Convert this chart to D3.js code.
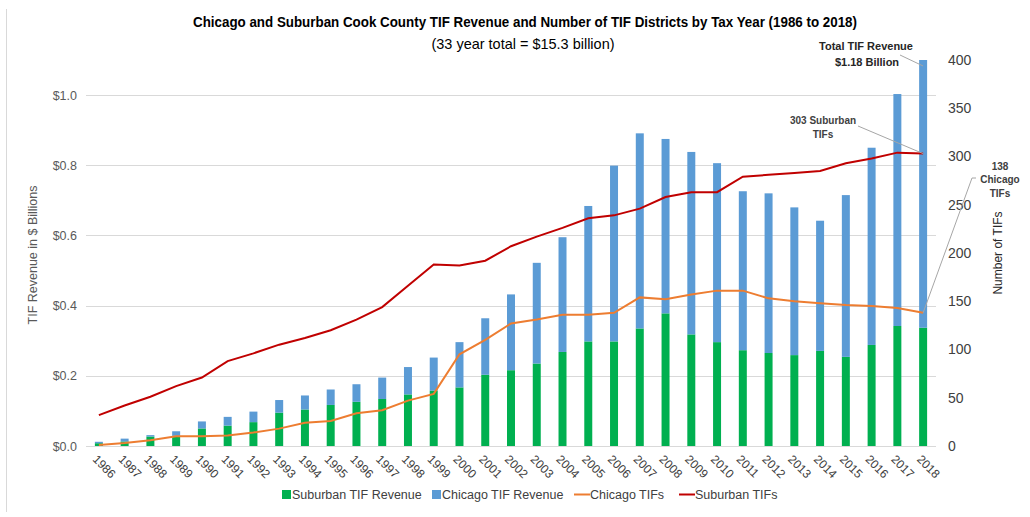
<!DOCTYPE html>
<html><head><meta charset="utf-8">
<script src="https://cdn.jsdelivr.net/npm/d3@7"></script>
<style>
body{margin:0;background:#fff;}
svg{display:block;font-family:"Liberation Sans",Arial,sans-serif;}
</style></head>
<body><svg id="c" width="1030" height="517"></svg>
<script>
const years = d3.range(1986, 2019).map(String);
const suburbanRevenue = [0.008,0.013,0.027,0.029,0.050,0.058,0.068,0.095,0.104,0.117,0.126,0.134,0.147,0.158,0.167,0.203,0.216,0.235,0.268,0.298,0.298,0.335,0.378,0.318,0.296,0.273,0.265,0.259,0.271,0.254,0.288,0.342,0.337];
const chicagoRevenue = [0.004,0.008,0.004,0.013,0.020,0.025,0.030,0.036,0.040,0.044,0.050,0.061,0.078,0.094,0.129,0.161,0.216,0.287,0.327,0.386,0.501,0.556,0.497,0.520,0.510,0.453,0.455,0.421,0.371,0.461,0.562,0.661,0.763];
const chicagoTIFs = [1,3,6,10,10,11,14,18,24,26,34,37,47,54,95,110,127,131,136,136,138,154,152,157,161,161,153,150,148,146,145,143,138];
const suburbanTIFs = [32,42,51,62,71,88,96,105,112,120,131,144,166,188,187,192,207,217,226,236,239,246,258,263,263,279,281,283,285,293,298,304,303];
const leftTicks = [0,0.2,0.4,0.6,0.8,1.0];
const rightTicks = [0,50,100,150,200,250,300,350,400];

const colors = {sub:"#00B050", chi:"#5B9BD5", chiLine:"#ED7D31", subLine:"#C00000"};
const svg = d3.select("#c");

// frame line at left
svg.append("line").attr("x1",6.5).attr("x2",6.5).attr("y1",9).attr("y2",512).attr("stroke","#d9d9d9");

const x = d3.scaleBand().domain(years).range([86,936]).paddingInner(0.69).paddingOuter(0.345);
const yL = d3.scaleLinear().domain([0,1.1]).range([446,60]);
const yR = d3.scaleLinear().domain([0,400]).range([446,60]);

// gridlines
svg.append("g").selectAll("line").data(leftTicks).join("line")
  .attr("x1",86).attr("x2",936).attr("y1",d=>Math.round(yL(d))+0.5).attr("y2",d=>Math.round(yL(d))+0.5)
  .attr("stroke","#d9d9d9").attr("stroke-width",1);

// left axis
const axL = d3.axisLeft(yL).tickValues(leftTicks).tickFormat(d=>"$"+d.toFixed(1)).tickSize(0).tickPadding(0);
const gL = svg.append("g").attr("transform","translate(77,0)").call(axL);
gL.select(".domain").remove();
gL.selectAll("text").attr("fill","#595959").attr("font-size","12.5px");

// right axis
const axR = d3.axisRight(yR).tickValues(rightTicks).tickSize(0).tickPadding(0);
const gR = svg.append("g").attr("transform","translate(948,0)").call(axR);
gR.select(".domain").remove();
gR.selectAll("text").attr("fill","#404040").attr("font-size","14px");

// bars
const data = years.map((y,i)=>({y, s:suburbanRevenue[i], c:chicagoRevenue[i]}));
svg.append("g").selectAll("rect").data(data).join("rect")
  .attr("x",d=>x(d.y)).attr("width",x.bandwidth())
  .attr("y",d=>yL(d.s)).attr("height",d=>yL(0)-yL(d.s)).attr("fill",colors.sub);
svg.append("g").selectAll("rect").data(data).join("rect")
  .attr("x",d=>x(d.y)).attr("width",x.bandwidth())
  .attr("y",d=>yL(d.s+d.c)).attr("height",d=>yL(d.s)-yL(d.s+d.c)).attr("fill",colors.chi);

// lines
const cx = d=>x(d)+x.bandwidth()/2;
const line = d3.line().x((d,i)=>cx(years[i])).y(d=>yR(d));
svg.append("path").datum(chicagoTIFs).attr("d",line).attr("fill","none").attr("stroke",colors.chiLine).attr("stroke-width",2);
svg.append("path").datum(suburbanTIFs).attr("d",line).attr("fill","none").attr("stroke",colors.subLine).attr("stroke-width",2);

// x labels
svg.append("g").selectAll("text").data(years).join("text")
  .attr("transform",d=>`translate(${cx(d)-4},${457}) rotate(45)`)
  .attr("font-size","12px").attr("fill","#404040").attr("dy","0.35em").text(d=>d);

// axis titles
svg.append("text").attr("transform","translate(37,255) rotate(-90)").attr("text-anchor","middle")
  .attr("font-size","12.5px").attr("fill","#595959").text("TIF Revenue in $ Billions");
svg.append("text").attr("transform","translate(1002,253) rotate(-90)").attr("text-anchor","middle")
  .attr("font-size","12px").attr("fill","#262626").text("Number of TIFs");

// title
svg.append("text").attr("x",525).attr("y",27).attr("text-anchor","middle").attr("font-weight","bold")
  .attr("font-size","14.5px").attr("fill","#000").attr("font-family","'Liberation Sans Narrow','Liberation Sans',Arial,sans-serif")
  .attr("textLength",664).attr("lengthAdjust","spacingAndGlyphs")
  .text("Chicago and Suburban Cook County TIF Revenue and Number of TIF Districts by Tax Year (1986 to 2018)");
svg.append("text").attr("x",523).attr("y",49).attr("text-anchor","middle")
  .attr("font-size","14.5px").attr("fill","#000").attr("font-family","'Liberation Sans Narrow','Liberation Sans',Arial,sans-serif")
  .attr("textLength",183).attr("lengthAdjust","spacingAndGlyphs")
  .text("(33 year total = $15.3 billion)");

// annotations
const last = years[years.length-1];
function leader(x1,y1,x2,y2){svg.append("line").attr("x1",x1).attr("y1",y1).attr("x2",x2).attr("y2",y2).attr("stroke","#a6a6a6").attr("stroke-width",1);}
const ann = svg.append("g").attr("font-size","11px").attr("fill","#262626").attr("text-anchor","middle");
ann.append("text").attr("x",866).attr("y",50).attr("font-weight","bold").text("Total TIF Revenue");
ann.append("text").attr("x",867).attr("y",66).attr("font-weight","bold").text("$1.18 Billion");
leader(900,55,cx(last),yL(suburbanRevenue[32]+chicagoRevenue[32])+6);
ann.append("text").attr("x",823).attr("y",124).attr("font-size","10px").attr("font-weight","bold").attr("fill","#404040").text("303 Suburban");
ann.append("text").attr("x",823).attr("y",138).attr("font-size","10px").attr("font-weight","bold").attr("fill","#404040").text("TIFs");
leader(858,126,cx(last),yR(suburbanTIFs[32]));
ann.append("text").attr("x",1000).attr("y",170).attr("font-size","10px").attr("font-weight","bold").attr("fill","#404040").text("138");
ann.append("text").attr("x",1000).attr("y",183).attr("font-size","10px").attr("font-weight","bold").attr("fill","#404040").text("Chicago");
ann.append("text").attr("x",1000).attr("y",197).attr("font-size","10px").attr("font-weight","bold").attr("fill","#404040").text("TIFs");
leader(976,178,972,178);
leader(972,178,cx(last),yR(chicagoTIFs[32]));

// legend
const legendItems = [
  {label:"Suburban TIF Revenue", color:colors.sub, type:"rect", x:282},
  {label:"Chicago TIF Revenue", color:colors.chi, type:"rect", x:432},
  {label:"Chicago TIFs", color:colors.chiLine, type:"line", x:574},
  {label:"Suburban TIFs", color:colors.subLine, type:"line", x:679}
];
const lg = svg.append("g");
legendItems.forEach(it=>{
  if(it.type==="rect"){
    lg.append("rect").attr("x",it.x).attr("y",490).attr("width",9).attr("height",9).attr("fill",it.color);
    lg.append("text").attr("x",it.x+10).attr("y",494.5).attr("dy","0.35em").attr("font-size","12.5px").attr("fill","#404040").text(it.label);
  } else {
    lg.append("line").attr("x1",it.x).attr("x2",it.x+16).attr("y1",494.5).attr("y2",494.5).attr("stroke",it.color).attr("stroke-width",2);
    lg.append("text").attr("x",it.x+16).attr("y",494.5).attr("dy","0.35em").attr("font-size","12.5px").attr("fill","#404040").text(it.label);
  }
});
</script></body></html>
